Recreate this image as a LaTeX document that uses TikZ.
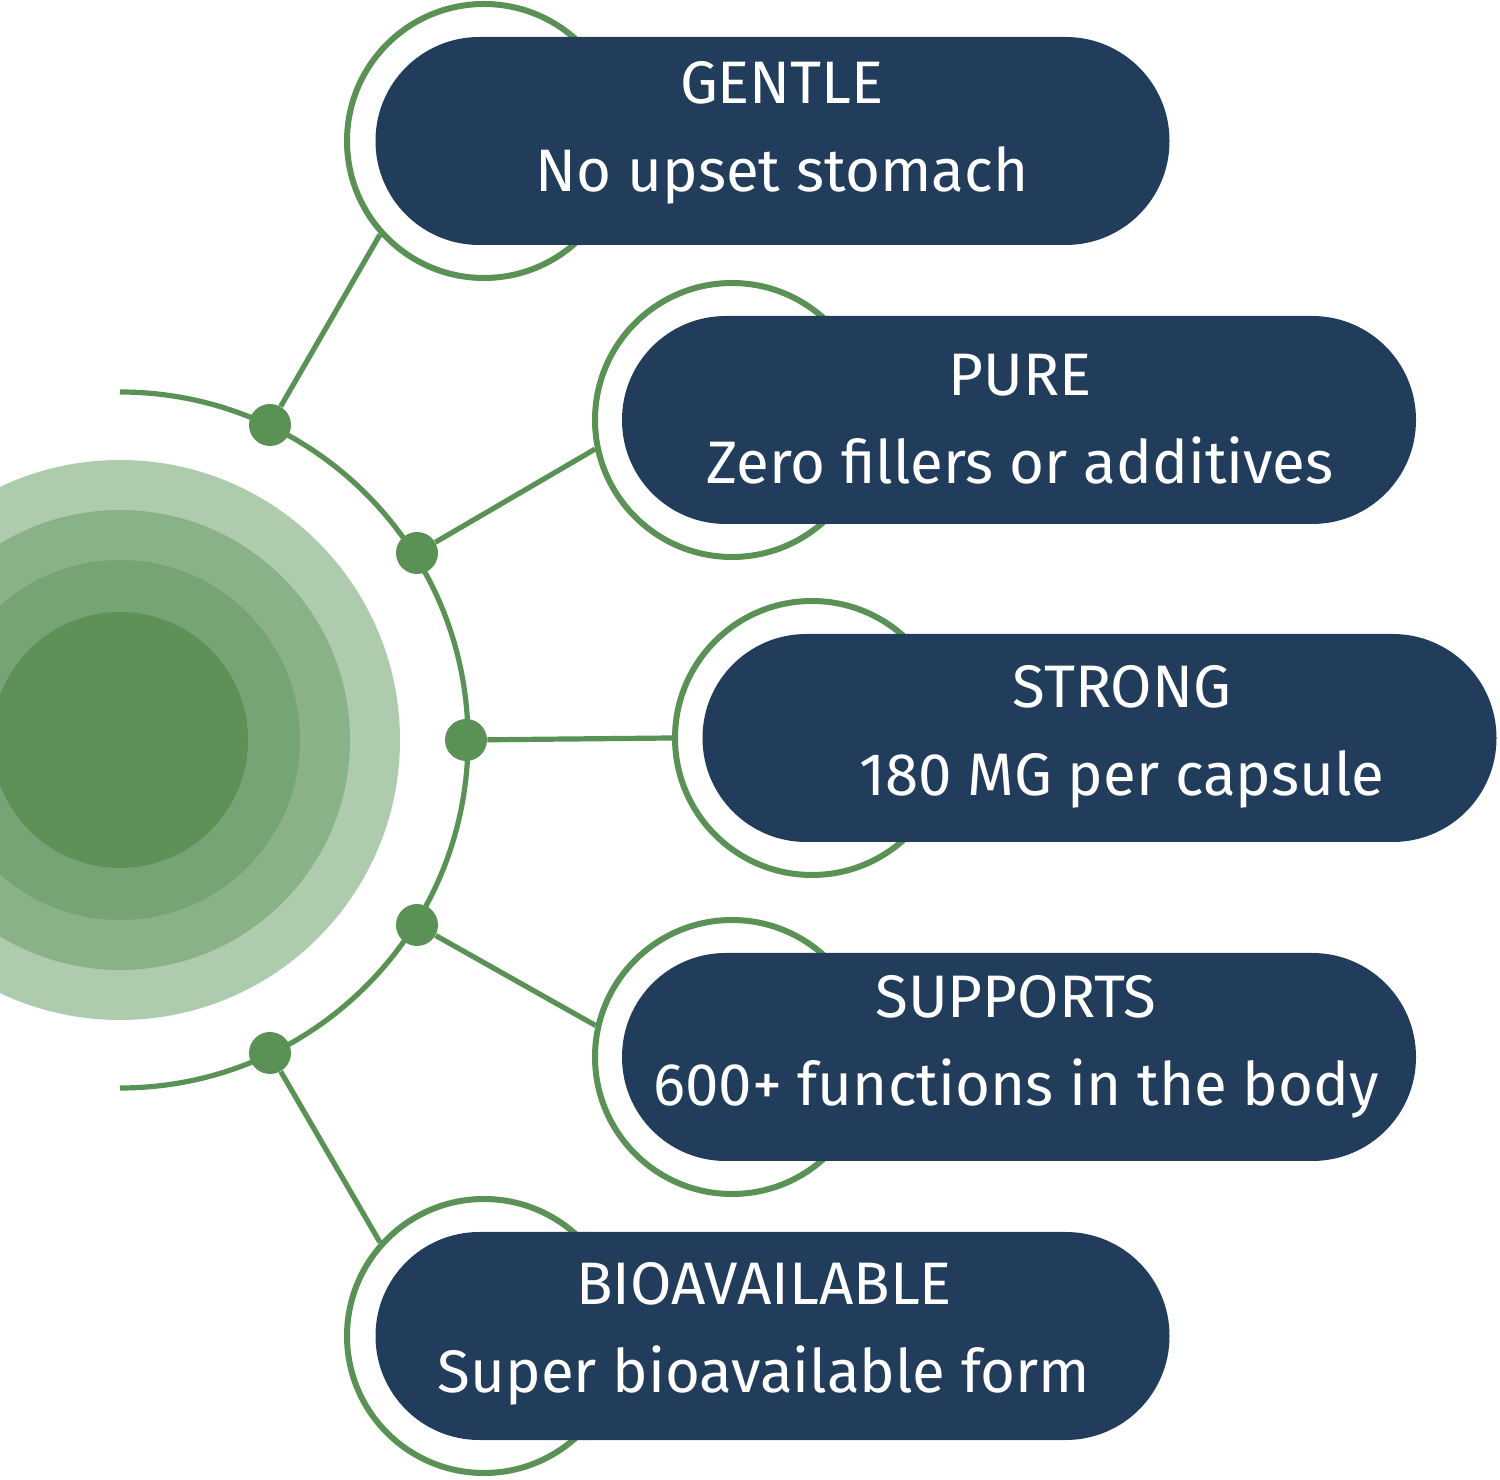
\documentclass[tikz,border=0pt]{standalone}
\usepackage{fontspec}
\setmainfont{Fira Sans}
\definecolor{navy}{HTML}{223D5B}
\definecolor{gr}{HTML}{5A9155}
\definecolor{g1}{HTML}{AECBAE}
\definecolor{g2}{HTML}{8AB288}
\definecolor{g3}{HTML}{76A474}
\definecolor{g4}{HTML}{5E9158}
\begin{document}
\begin{tikzpicture}[x=0.5pt,y=0.5pt,
  ring/.style={circle,draw=gr,line width=3pt,fill=white,minimum size=137pt,inner sep=0pt},
  pill/.style={fill=navy,rounded corners=51.9pt,minimum width=397pt,minimum height=104pt,inner sep=0pt},
  lbl/.style={text=white,align=center,font=\fontsize{30}{44}\selectfont},
  dot/.style={circle,fill=gr,minimum size=21pt,inner sep=0pt},
  conn/.style={draw=gr,line width=2.6pt}]
\useasboundingbox (0,0) rectangle (1500,1479);
\clip (0,0) rectangle (1500,1479);
\fill[g1] (120,739) circle (280);
\fill[g2] (120,739) circle (230);
\fill[g3] (120,739) circle (180);
\fill[g4] (120,739) circle (128);
\draw[gr,line width=2.6pt] (120,1087) arc (90:-90:348);
\node[ring] (c1) at (484,1338) {};
\node[ring] (c2) at (732,1059) {};
\node[ring] (c3) at (812,741) {};
\node[ring] (c4) at (732,422) {};
\node[ring] (c5) at (484,143) {};
\node[pill] (p1) at (772.5,1338) {};
\node[pill] (p2) at (1019,1059) {};
\node[pill] (p3) at (1099.5,741) {};
\node[pill] (p4) at (1019,422) {};
\node[pill] (p5) at (772.5,143) {};
\node[lbl] (t1) at (782,1346) {GENTLE\\No upset stomach};
\node[lbl] (t2) at (1020,1060) {PURE\\Zero fillers or additives};
\node[lbl] (t3) at (1122,742) {STRONG\\180 MG per capsule};
\node[lbl] (t4) at (1016,432) {SUPPORTS\\600+ functions in the body};
\node[lbl] (t5) at (764,145) {BIOAVAILABLE\\Super bioavailable form};
\node[dot] (d1) at (270,1054) {};
\node[dot] (d2) at (417,926) {};
\node[dot] (d3) at (466,739) {};
\node[dot] (d4) at (417,554) {};
\node[dot] (d5) at (270,426) {};
\path[conn] (d1) -- (c1.222);
\path[conn] (d2) -- (c2.192);
\path[conn] (d3) -- (c3.180);
\path[conn] (d4) -- (c4.167);
\path[conn] (d5) -- (c5.138);
\end{tikzpicture}
\end{document}
